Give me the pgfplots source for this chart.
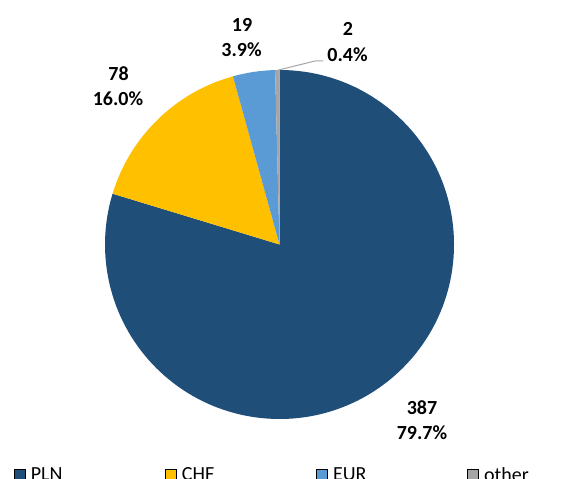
\documentclass[border=0pt]{standalone}
\usepackage{fontspec}
\setmainfont{Carlito}
\usepackage{pgfplots}
\usepackage{pgfplotstable}
\pgfplotsset{compat=1.18}
\definecolor{plnc}{HTML}{1F4E79}
\definecolor{chfc}{HTML}{FFC000}
\definecolor{eurc}{HTML}{5B9BD5}
\definecolor{othc}{HTML}{A5A5A5}
\pgfplotstableread{
label value pct
PLN 387 79.7
CHF 78 16.0
EUR 19 3.9
other 2 0.4
}\piedata
\begin{document}
\begin{tikzpicture}
\pgfplotstablegetelem{0}{pct}\of\piedata \let\pA\pgfplotsretval
\pgfplotstablegetelem{1}{pct}\of\piedata \let\pB\pgfplotsretval
\pgfplotstablegetelem{2}{pct}\of\piedata \let\pC\pgfplotsretval
\pgfplotstablegetelem{3}{pct}\of\piedata \let\pD\pgfplotsretval
\pgfmathsetmacro\aA{90}
\pgfmathsetmacro\aB{\aA-3.6*\pA}
\pgfmathsetmacro\aC{\aB-3.6*\pB}
\pgfmathsetmacro\aD{\aC-3.6*\pC}
\pgfmathsetmacro\aE{\aD-3.6*\pD}
\def\R{174.5bp}
\begin{axis}[
  width=563bp, height=479bp, scale only axis,
  xmin=0, xmax=563, ymin=0, ymax=479,
  hide axis, clip=false,
  legend columns=4,
  legend image code/.code={\fill[#1] (0bp,-5.5bp) rectangle (11bp,5.5bp);},
  legend style={at={(axis cs:14,4)}, anchor=west, draw=none, fill=none,
    inner sep=0pt, outer sep=0pt,
    font=\fontsize{20bp}{24bp}\selectfont,
    /tikz/every odd column/.style={column sep=5.5bp},
    nodes={inner sep=0pt}},
  legend cell align=left,
]
\addlegendimage{fill=plnc}\addlegendentry{\makebox[134.2bp][l]{PLN}}
\addlegendimage{fill=chfc}\addlegendentry{\makebox[134.2bp][l]{CHF}}
\addlegendimage{fill=eurc}\addlegendentry{\makebox[134.2bp][l]{EUR}}
\addlegendimage{fill=othc}\addlegendentry{\makebox[134.2bp][l]{other}}

\fill[plnc] (axis cs:279.5,234.5) -- ++(\aA:\R) arc[start angle=\aA, end angle=\aB, radius=\R] -- cycle;
\fill[chfc] (axis cs:279.5,234.5) -- ++(\aB:\R) arc[start angle=\aB, end angle=\aC, radius=\R] -- cycle;
\fill[eurc] (axis cs:279.5,234.5) -- ++(\aC:\R) arc[start angle=\aC, end angle=\aD, radius=\R] -- cycle;
\fill[othc] (axis cs:279.5,234.5) -- ++(\aD:\R) arc[start angle=\aD, end angle=\aE, radius=\R] -- cycle;

\addplot[draw=othc, line width=1bp, no marks] coordinates {(278.5,409) (315,418) (323,418)};

\tikzset{lab/.style={anchor=base, inner sep=0pt, font=\fontsize{20bp}{24bp}\selectfont\bfseries}}
\node[lab] at (axis cs:118.5,398) {78};
\node[lab] at (axis cs:118,373) {16.0\%};
\node[lab] at (axis cs:242,447) {19};
\node[lab] at (axis cs:241.5,422) {3.9\%};
\node[lab] at (axis cs:348,443) {2};
\node[lab] at (axis cs:347.5,417) {0.4\%};
\node[lab] at (axis cs:422,64.5) {387};
\node[lab] at (axis cs:422,39) {79.7\%};
\end{axis}
\pgfresetboundingbox
\useasboundingbox (0,0) rectangle (563bp,479bp);
\end{tikzpicture}
\end{document}
